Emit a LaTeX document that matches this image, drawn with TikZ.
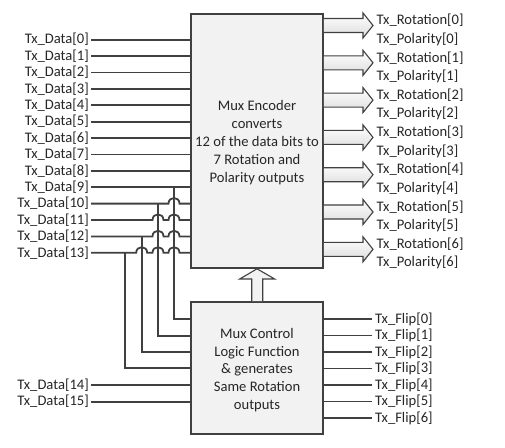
\documentclass[tikz,border=0pt]{standalone}
\usepackage{fontspec}
\setmainfont{Carlito}
\usetikzlibrary{calc}
\definecolor{ln}{HTML}{404040}
\definecolor{boxfill}{HTML}{F2F2F2}
\begin{document}
\begin{tikzpicture}[x=1pt,y=-1pt,
  font=\fontsize{14.6}{18}\selectfont,
  wire/.style={draw=ln, line width=1.8pt},
  lbl/.style={inner sep=0pt, text=black!85},
  blk/.style={draw=ln, line width=1.6pt, fill=boxfill, inner sep=0pt},
  btxt/.style={align=center, inner sep=0pt, text=black!85},
  outarr/.style={draw=ln, line width=1.1pt, top color=white, bottom color=ln!18},
  uparr/.style={draw=ln, line width=1.1pt, fill=boxfill},
  hop/.style 2 args={insert path={-- (#1-5.5,#2) .. controls (#1-5.5,#2-7.5) and (#1+5.5,#2-7.5) .. (#1+5.5,#2)}}
]
\useasboundingbox (0,0) rectangle (505,447);

% boxes
\node[blk, minimum width=132pt, minimum height=254pt] (enc) at (257,141) {};
\node[btxt] (enctext) at (enc.center) [yshift=-2pt]
  {Mux Encoder\\converts\\12 of the data bits to\\7 Rotation and\\Polarity outputs};
\node[blk, minimum width=132pt, minimum height=132pt] (ctl) at (257,368) {};
\node[btxt, font=\fontsize{14.6}{17.7}\selectfont] (ctltext) at (ctl.center) [yshift=-2pt]
  {Mux Control\\Logic Function\\\& generates\\Same Rotation\\outputs};

% up arrow between boxes
\draw[uparr] (ctl.north -| 251.7,0) -- (251.7,279) -- (239.7,279) -- (enc.south) -- (274.7,279) -- (262.7,279) -- (ctl.north -| 262.7,0);

% left labels
\foreach \i in {0,...,13}{
  \pgfmathsetmacro\yy{39.6+16.4*\i}
  \node[lbl,anchor=east] (d\i) at (89,\yy) {Tx\_Data[\i]};
}
\node[lbl,anchor=east] (d14) at (89,385) {Tx\_Data[14]};
\node[lbl,anchor=east] (d15) at (89,401.7) {Tx\_Data[15]};

% straight wires into encoder
\foreach \i in {0,...,9}{
  \draw[wire] ([xshift=2pt]d\i.east) -- (d\i.east -| enc.west);
}
% wires with hops
\draw[wire] ([xshift=2pt]d10.east) [hop={174}{203.6}] -- (d10.east -| enc.west);
\draw[wire] ([xshift=2pt]d11.east) [hop={158}{220}] [hop={174}{220}] -- (d11.east -| enc.west);
\draw[wire] ([xshift=2pt]d12.east) [hop={158}{236.4}] [hop={174}{236.4}] -- (d12.east -| enc.west);
\draw[wire] ([xshift=2pt]d13.east) [hop={141.7}{252.8}] [hop={158}{252.8}] [hop={174}{252.8}] -- (d13.east -| enc.west);

% feedback into control box
\coordinate (v9) at (174,187.2);
\coordinate (v10) at (158,203.6);
\coordinate (v12) at (141.7,236.4);
\coordinate (v13) at (125,252.8);
\draw[wire] (v9) |- (ctl.west |- 0,319);
\draw[wire] (v10) |- (ctl.west |- 0,335.7);
\draw[wire] (v12) |- (ctl.west |- 0,351.7);
\draw[wire] (v13) |- (ctl.west |- 0,368.3);
\draw[wire] ([xshift=2pt]d14.east) -- (d14.east -| ctl.west);
\draw[wire] ([xshift=2pt]d15.east) -- (d15.east -| ctl.west);

% output arrows and labels
\foreach \k in {0,...,6}{
  \pgfmathsetmacro\cc{25.5+37.3*\k}
  \coordinate (t\k) at (373,\cc);
  \draw[outarr] (enc.east |- 0,\cc-7) -- (363,\cc-7) -- (363,\cc-12.5) -- (t\k) -- (363,\cc+12.5) -- (363,\cc+7) -- (enc.east |- 0,\cc+7);
  \node[lbl,anchor=west] (r\k) at (376.5,\cc-5) {Tx\_Rotation[\k]};
  \node[lbl,anchor=west] (p\k) at (376.5,\cc+13.5) {Tx\_Polarity[\k]};
}

% flip outputs
\foreach \k in {0,...,6}{
  \pgfmathsetmacro\ff{319+16.5*\k}
  \node[lbl,anchor=west] (f\k) at (375,\ff) {Tx\_Flip[\k]};
  \draw[wire] (ctl.east |- f\k.west) -- ([xshift=-3pt]f\k.west);
}
\end{tikzpicture}
\end{document}
